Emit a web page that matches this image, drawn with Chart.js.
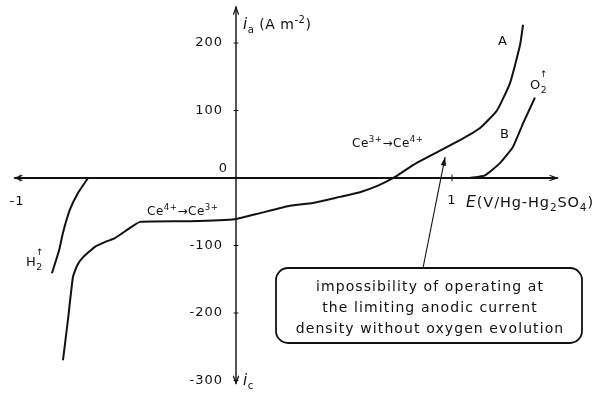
<!DOCTYPE html>
<html>
<head>
<meta charset="utf-8">
<script src="https://cdn.jsdelivr.net/npm/chart.js@4.4.1/dist/chart.umd.min.js"></script>
<style>
  html, body { margin: 0; padding: 0; background: #fff; }
  #wrap { width: 600px; height: 394px; }
</style>
</head>
<body>
<div id="wrap"><canvas id="chart"></canvas></div>
<script>
// curve A : Ce(IV)/Ce(III) on the electrode, potential E (V) vs current density i (A m-2)
const curveA_E = [-0.801, -0.778, -0.755, -0.736, -0.710, -0.653, -0.600, -0.560, -0.491, -0.444, -0.213, -0.005, 0.111, 0.250, 0.356, 0.480, 0.574, 0.660, 0.736, 0.819, 0.930, 1.037, 1.130, 1.208, 1.269, 1.315, 1.329];
const curveA_i = [-270, -210, -147, -130, -118, -102, -94, -89, -74, -65, -64, -61, -52, -41, -37, -28, -21, -11, 1.5, 19, 38, 56, 74, 100, 141, 197, 227];
// curve B : supporting electrolyte only, oxygen evolution
const curveB_E = [1.083, 1.153, 1.222, 1.282, 1.329, 1.384];
const curveB_i = [0, 4, 22, 46, 81, 119];
// hydrogen evolution branch
const curveH_E = [-0.852, -0.819, -0.801, -0.769, -0.731, -0.685];
const curveH_i = [-141, -107, -81, -47, -22, 0];

const yTicks = [200, 100, 0, -100, -200, -300];
const xTicks = [-1, 1];

function pts(xs, ys) {
  return xs.map((x, k) => ({ x: x, y: ys[k] }));
}

const lineStyle = {
  borderColor: '#111',
  borderWidth: 2,
  pointRadius: 0,
  fill: false,
  showLine: true,
  tension: 0.15
};

// draws a run of text pieces: [text, kind] where kind is n / it / sub / sup
function richText(ctx, x, y, parts, size) {
  let cx = x;
  parts.forEach(function(p) {
    const txt = p[0], kind = p[1] || 'n';
    let fs = size, dy = 0, style = '';
    if (kind === 'sub') { fs = size * 0.72; dy = size * 0.28; }
    if (kind === 'sup') { fs = size * 0.72; dy = -size * 0.42; }
    if (kind === 'it') { style = 'italic '; fs = size * 1.08; }
    ctx.font = style + fs + 'px "DejaVu Sans", sans-serif';
    ctx.fillText(txt, cx, y + dy);
    cx += ctx.measureText(txt).width;
  });
}

const decorations = {
  id: 'decorations',
  beforeDatasetsDraw: function(chart) {
    const ctx = chart.ctx;
    const xs = chart.scales.x, ys = chart.scales.y;
    const x0 = xs.getPixelForValue(0), y0 = ys.getPixelForValue(0);
    ctx.save();
    ctx.strokeStyle = '#111';
    ctx.lineCap = 'round';
    // horizontal axis with arrows both ways
    const xl = xs.getPixelForValue(-1.023), xr = xs.getPixelForValue(1.486);
    ctx.lineWidth = 2;
    ctx.beginPath();
    ctx.moveTo(xl, y0); ctx.lineTo(xr, y0);
    ctx.stroke();
    ctx.lineWidth = 1.2;
    ctx.beginPath();
    ctx.moveTo(xl + 7, y0 - 2.5); ctx.lineTo(xl, y0); ctx.lineTo(xl + 7, y0 + 2.5);
    ctx.moveTo(xr - 7, y0 - 2.5); ctx.lineTo(xr, y0); ctx.lineTo(xr - 7, y0 + 2.5);
    ctx.stroke();
    // vertical axis
    const yt = ys.getPixelForValue(253), yb = ys.getPixelForValue(-304);
    ctx.lineWidth = 1.4;
    ctx.beginPath();
    ctx.moveTo(x0, yt); ctx.lineTo(x0, yb);
    ctx.stroke();
    ctx.lineWidth = 1.2;
    ctx.beginPath();
    ctx.moveTo(x0 - 2.5, yt + 7); ctx.lineTo(x0, yt); ctx.lineTo(x0 + 2.5, yt + 7);
    ctx.moveTo(x0 - 2.5, yb - 7); ctx.lineTo(x0, yb); ctx.lineTo(x0 + 2.5, yb - 7);
    ctx.stroke();
    // tick marks
    ctx.lineWidth = 1;
    ctx.beginPath();
    yTicks.forEach(function(v) {
      if (v === 0) return;
      const py = ys.getPixelForValue(v);
      ctx.moveTo(x0 - 2, py); ctx.lineTo(x0 + 2, py);
    });
    xTicks.forEach(function(v) {
      const px = xs.getPixelForValue(v);
      ctx.moveTo(px, y0 - 3); ctx.lineTo(px, y0 + 3);
    });
    ctx.stroke();
    ctx.restore();
  },
  afterDatasetsDraw: function(chart) {
    const ctx = chart.ctx;
    const xs = chart.scales.x, ys = chart.scales.y;
    const x0 = xs.getPixelForValue(0), y0 = ys.getPixelForValue(0);
    ctx.save();
    ctx.fillStyle = '#111';
    ctx.letterSpacing = '1px';

    // y tick labels
    ctx.font = '13px "DejaVu Sans", sans-serif';
    ctx.textAlign = 'right';
    ctx.textBaseline = 'middle';
    yTicks.forEach(function(v) {
      const txt = v < 0 ? '-' + Math.abs(v) : String(v);
      if (v === 0) ctx.fillText(txt, x0 - 8, y0 - 9);
      else ctx.fillText(txt, x0 - 13, ys.getPixelForValue(v));
    });
    // x tick labels
    ctx.textAlign = 'center';
    ctx.fillText('-1', 17, y0 + 24);
    ctx.fillText('1', xs.getPixelForValue(1), y0 + 23);

    // axis titles
    ctx.textAlign = 'left';
    ctx.textBaseline = 'alphabetic';
    ctx.letterSpacing = '0.5px';
    richText(ctx, x0 + 7, 29, [['i', 'it'], ['a', 'sub'], [' (A m'], ['-2', 'sup'], [')']], 14);
    richText(ctx, x0 + 7, ys.getPixelForValue(-304) + 2, [['i', 'it'], ['c', 'sub']], 14);
    ctx.letterSpacing = '0.9px';
    richText(ctx, 466, 207, [['E', 'it'], ['(V/Hg-Hg'], ['2', 'sub'], ['SO'], ['4', 'sub'], [')']], 14.5);
    ctx.letterSpacing = '0.5px';

    // curve labels
    ctx.font = '13px "DejaVu Sans", sans-serif';
    ctx.fillText('A', 498, 45);
    ctx.fillText('B', 500, 138);
    richText(ctx, 530, 89, [['O'], ['2', 'sub']], 13);
    ctx.font = '9px "DejaVu Sans", sans-serif';
    ctx.fillText('\u2191', 540, 77);
    richText(ctx, 26, 266, [['H'], ['2', 'sub']], 13);
    ctx.font = '9px "DejaVu Sans", sans-serif';
    ctx.fillText('\u2191', 36, 255);
    richText(ctx, 352, 147, [['Ce'], ['3+', 'sup'], ['\u2192'], ['Ce'], ['4+', 'sup']], 12);
    richText(ctx, 147, 215, [['Ce'], ['4+', 'sup'], ['\u2192'], ['Ce'], ['3+', 'sup']], 12);

    // note box and pointer
    ctx.strokeStyle = '#111';
    ctx.lineWidth = 1.8;
    ctx.beginPath();
    ctx.roundRect(276, 268, 306, 75, 12);
    ctx.stroke();
    ctx.lineWidth = 1.1;
    const ax = xs.getPixelForValue(0.968), ay = ys.getPixelForValue(31);
    ctx.beginPath();
    ctx.moveTo(423, 268); ctx.lineTo(ax, ay);
    ctx.stroke();
    const ang = Math.atan2(ay - 268, ax - 423);
    ctx.beginPath();
    ctx.moveTo(ax, ay);
    ctx.lineTo(ax - 9 * Math.cos(ang - 0.3), ay - 9 * Math.sin(ang - 0.3));
    ctx.lineTo(ax - 9 * Math.cos(ang + 0.3), ay - 9 * Math.sin(ang + 0.3));
    ctx.closePath();
    ctx.fill();

    ctx.font = '14px "DejaVu Sans", sans-serif';
    ctx.textAlign = 'center';
    ctx.textBaseline = 'middle';
    ctx.letterSpacing = '1.1px';
    ctx.fillText('impossibility of operating at', 430, 287);
    ctx.fillText('the limiting anodic current', 430, 308);
    ctx.fillText('density without oxygen evolution', 430, 329);
    ctx.restore();
  }
};

new Chart(document.getElementById('chart'), {
  type: 'scatter',
  data: {
    datasets: [
      Object.assign({ label: 'A', data: pts(curveA_E, curveA_i) }, lineStyle),
      Object.assign({ label: 'B', data: pts(curveB_E, curveB_i) }, lineStyle),
      Object.assign({ label: 'H2', data: pts(curveH_E, curveH_i) }, lineStyle)
    ]
  },
  options: {
    responsive: true,
    maintainAspectRatio: false,
    animation: false,
    layout: { padding: 0 },
    plugins: { legend: { display: false }, tooltip: { enabled: false } },
    scales: {
      x: { type: 'linear', min: -1.0926, max: 1.6852, display: false },
      y: { type: 'linear', min: -320, max: 263.7, display: false }
    }
  },
  plugins: [decorations]
});
</script>
</body>
</html>
